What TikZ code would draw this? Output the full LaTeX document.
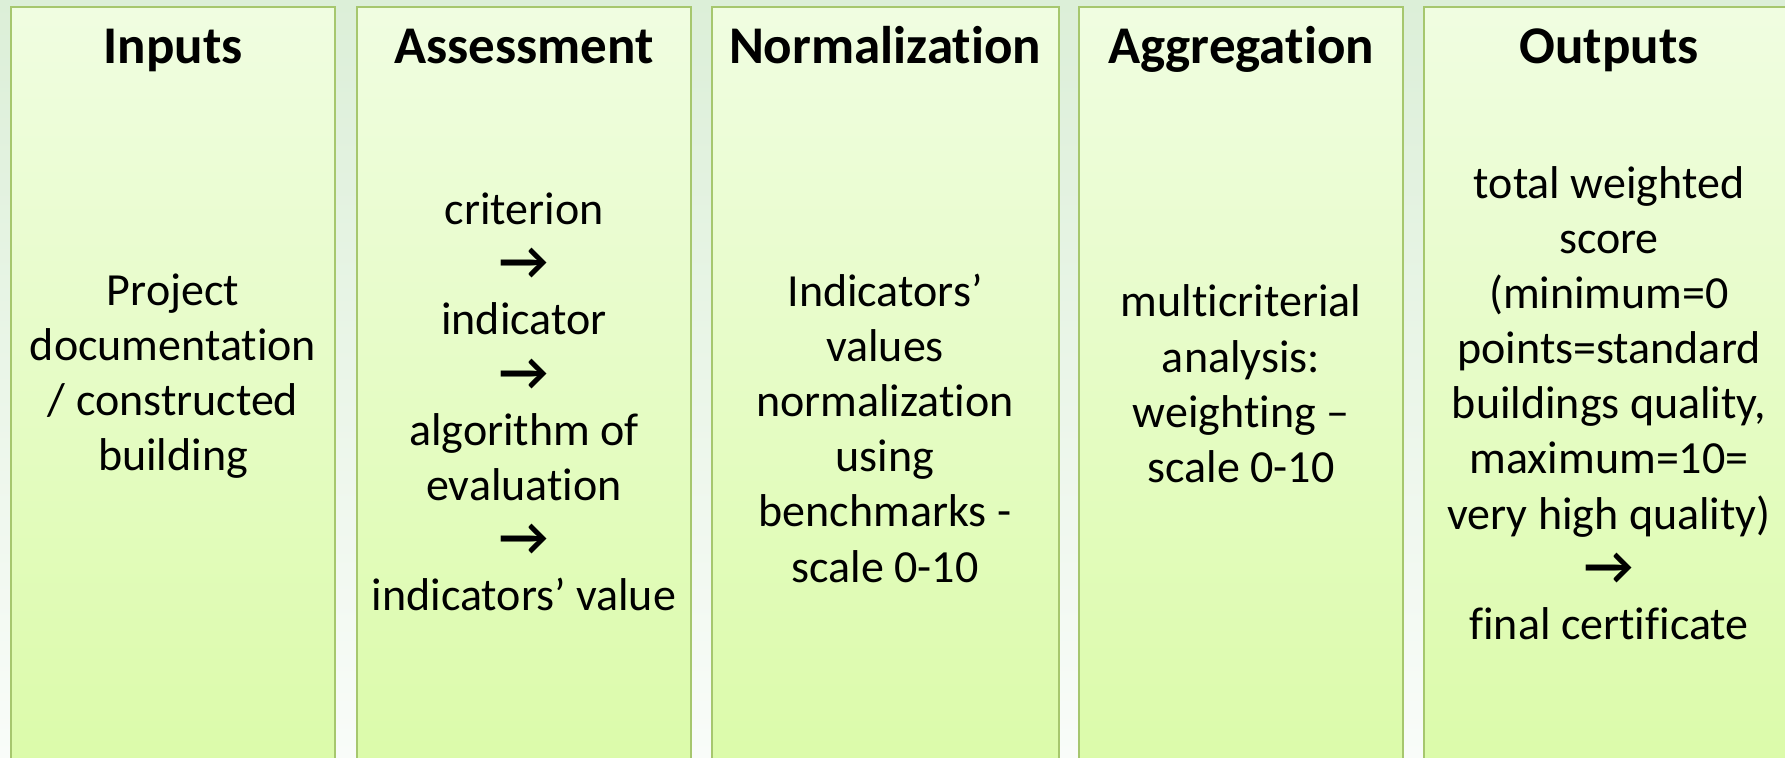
\documentclass[tikz,border=0pt]{standalone}
\usepackage{fontspec}
\setmainfont{Carlito}[Ligatures=NoCommon]
\usetikzlibrary{positioning}
\definecolor{backtop}{HTML}{DCEFD8}
\definecolor{backbottom}{HTML}{F9FCF9}
\definecolor{paneltop}{HTML}{F0FDE1}
\definecolor{panelbottom}{HTML}{DBFBA9}
\definecolor{panelline}{HTML}{A6C76E}
\newcommand{\nextstep}{{\fontsize{27}{27.6}\selectfont\bfseries →}}
\tikzset{
  panel/.style={draw=panelline, line width=1pt, top color=paneltop, bottom color=panelbottom},
  heading/.style={font=\fontsize{26.5}{30}\selectfont\bfseries, anchor=base},
  body/.style={font=\fontsize{23}{27.6}\selectfont, align=center, inner sep=0pt},
}

\begin{document}
\begin{tikzpicture}[x=0.5pt, y=-0.5pt]
  \useasboundingbox (0,0) rectangle (1785,758);
  \shade[top color=backtop, bottom color=backbottom] (0,0) rectangle (1785,758);
  \clip (0,0) rectangle (1785,758);
  % panels
  \draw[panel] (11,7) rectangle (335,775);
  \draw[panel] (357,7) rectangle (691,775);
  \draw[panel] (712,7) rectangle (1059,775);
  \draw[panel] (1079,7) rectangle (1403,775);
  \draw[panel] (1424,7) rectangle (1794,775);
  % headings
  \node[heading] (inputs) at (173,64) {Inputs};
  \node[heading] (assessment) at (524,64) {Assessment};
  \node[heading] (normalization) at (885,64) {Normalization};
  \node[heading] (aggregation) at (1241,64) {Aggregation};
  \node[heading] (outputs) at (1609,64) {Outputs};
  % contents
  \node[body] (project) at (173,376) {Project\\documentation\\/ constructed\\building};
  \node[body] (criterion) at (524,402) {criterion\\\nextstep\\indicator\\\nextstep\\algorithm of\\evaluation\\\nextstep\\indicators’ value};
  \node[body] (values) at (885,428) {Indicators’\\values\\normalization\\using\\benchmarks -\\scale 0-10};
  \node[body] (weighting) at (1241,384) {multicriterial\\analysis:\\weighting –\\scale 0-10};
  \node[body] (score) at (1609,403) {total weighted\\score\\(minimum=0\\points=standard\\buildings quality,\\maximum=10=\\very high quality)\\\nextstep\\final certificate};
\end{tikzpicture}
\end{document}
